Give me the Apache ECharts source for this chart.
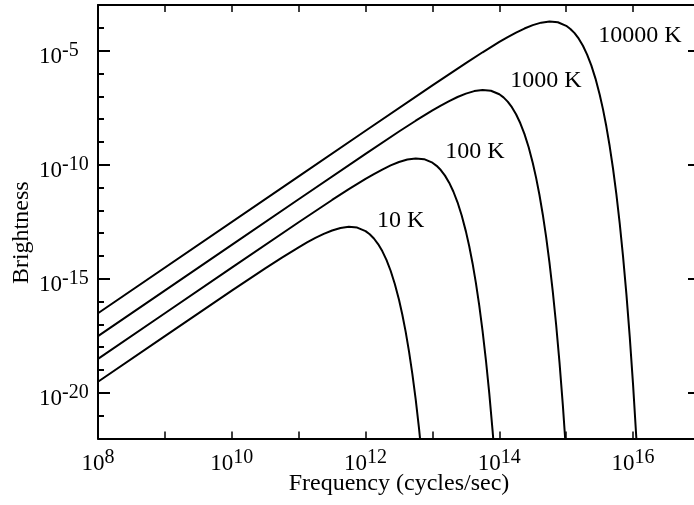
<!DOCTYPE html>
<html><head><meta charset="utf-8">
<script src="https://cdn.jsdelivr.net/npm/echarts@6/dist/echarts.min.js"></script>
<style>html,body{margin:0;padding:0;background:#fff}#c{width:694px;height:505px}</style>
</head><body><div id="c"></div>
<script>
// values are log10(frequency in Hz), log10(brightness)
const curveNames = ['10 K', '100 K', '1000 K', '10000 K'];
const curve10K = [[8,-19.512],[9,-17.513],[10,-15.522],[10.5,-14.545],[10.75,-14.072],[11,-13.620],[11.125,-13.409],[11.25,-13.211],[11.375,-13.032],[11.5,-12.883],[11.625,-12.773],[11.75,-12.723],[11.875,-12.757],[12,-12.912],[12.0625,-13.049],[12.125,-13.234],[12.1875,-13.478],[12.25,-13.787],[12.3125,-14.174],[12.375,-14.648],[12.4375,-15.226],[12.5,-15.922],[12.55,-16.576],[12.6,-17.328],[12.65,-18.192],[12.7,-19.177],[12.75,-20.301],[12.8,-21.582],[12.85,-23.036]];
const curve100K = [[8,-18.512],[9,-16.512],[10,-14.513],[11,-12.522],[11.5,-11.545],[11.75,-11.072],[12,-10.620],[12.125,-10.409],[12.25,-10.211],[12.375,-10.032],[12.5,-9.883],[12.625,-9.773],[12.75,-9.723],[12.875,-9.757],[13,-9.912],[13.0625,-10.049],[13.125,-10.234],[13.1875,-10.478],[13.25,-10.787],[13.3125,-11.174],[13.375,-11.648],[13.4375,-12.226],[13.5,-12.922],[13.55,-13.576],[13.6,-14.328],[13.65,-15.192],[13.7,-16.177],[13.75,-17.301],[13.8,-18.582],[13.85,-20.036],[13.9,-21.686],[13.95,-23.557]];
const curve1000K = [[8,-17.512],[10,-13.512],[11,-11.513],[12,-9.522],[12.5,-8.545],[12.75,-8.072],[13,-7.620],[13.125,-7.409],[13.25,-7.211],[13.375,-7.032],[13.5,-6.883],[13.625,-6.773],[13.75,-6.723],[13.875,-6.757],[14,-6.912],[14.0625,-7.049],[14.125,-7.234],[14.1875,-7.478],[14.25,-7.787],[14.3125,-8.174],[14.375,-8.648],[14.4375,-9.226],[14.5,-9.922],[14.55,-10.576],[14.6,-11.328],[14.65,-12.192],[14.7,-13.177],[14.75,-14.301],[14.8,-15.582],[14.85,-17.036],[14.9,-18.686],[14.95,-20.557],[15,-22.674]];
const curve10000K = [[8,-16.512],[11,-10.512],[12,-8.513],[13,-6.522],[13.5,-5.545],[13.75,-5.072],[14,-4.620],[14.125,-4.409],[14.25,-4.211],[14.375,-4.032],[14.5,-3.883],[14.625,-3.773],[14.75,-3.723],[14.875,-3.757],[15,-3.912],[15.0625,-4.049],[15.125,-4.234],[15.1875,-4.478],[15.25,-4.787],[15.3125,-5.174],[15.375,-5.648],[15.4375,-6.226],[15.5,-6.922],[15.55,-7.576],[15.6,-8.328],[15.65,-9.192],[15.7,-10.177],[15.75,-11.301],[15.8,-12.582],[15.85,-14.036],[15.9,-15.686],[15.95,-17.557],[16,-19.674],[16.05,-22.066],[16.1,-24.77]];
const xTickLabels = [8, 10, 12, 14, 16];
const yTickLabels = [-20, -15, -10, -5];
const curveLabelX = [12.172, 13.19, 14.163, 15.48];
const curveLabelY = [-12.47, -9.42, -6.33, -4.355];

const FONT = 'Liberation Serif';
const curves = [curve10K, curve100K, curve1000K, curve10000K];
const rich = {
  b: { fontFamily: FONT, fontSize: 23, color: '#000', padding: [5, 0, 0, 0], verticalAlign: 'bottom' },
  s: { fontFamily: FONT, fontSize: 20, color: '#000', verticalAlign: 'top' }
};
const powFmt = v => '{b|10}{s|' + v + '}';
const axisLine = { show: true, onZero: false, lineStyle: { color: '#000', width: 2 } };

const chart = echarts.init(document.getElementById('c'), null, { renderer: 'canvas' });
chart.setOption({
  animation: false,
  backgroundColor: '#fff',
  grid: { left: 98, top: 5, width: 602, height: 433.5, containLabel: false, outerBoundsMode: 'none' },
  xAxis: [
    { type: 'value', position: 'bottom', min: 8, max: 17, interval: 1,
      axisLine, axisTick: { inside: true, length: 7, lineStyle: { color: '#000', width: 1.5 } },
      axisLabel: { customValues: xTickLabels, formatter: powFmt, rich, margin: 9 },
      splitLine: { show: false },
      name: 'Frequency (cycles/sec)', nameLocation: 'middle', nameGap: 33, nameMoveOverlap: false,
      nameTextStyle: { fontFamily: FONT, fontSize: 24, color: '#000' } },
    { type: 'value', position: 'top', min: 8, max: 17, interval: 1,
      axisLine, axisTick: { inside: true, length: 7, lineStyle: { color: '#000', width: 1.5 } },
      axisLabel: { show: false }, splitLine: { show: false } }
  ],
  yAxis: [
    { type: 'value', position: 'left', min: -22, max: -3,
      axisLine, axisTick: { inside: true, length: 12, customValues: yTickLabels, lineStyle: { color: '#000', width: 2 } },
      axisLabel: { customValues: yTickLabels, formatter: powFmt, rich, margin: 59, align: 'left', padding: [8, 0, 0, 0] },
      splitLine: { show: false },
      name: 'Brightness', nameLocation: 'middle', nameGap: 64, nameRotate: 90, nameMoveOverlap: false,
      nameTextStyle: { fontFamily: FONT, fontSize: 24, color: '#000', padding: [0, 22, 0, 0] } },
    { type: 'value', position: 'left', min: -22, max: -3, interval: 1, offset: 0,
      axisLine: { show: false }, axisTick: { inside: true, length: 6, lineStyle: { color: '#000', width: 2 } },
      axisLabel: { show: false }, splitLine: { show: false } },
    { type: 'value', position: 'right', min: -22, max: -3, offset: 0,
      axisLine, axisTick: { inside: true, length: 12, customValues: yTickLabels, lineStyle: { color: '#000', width: 2 } },
      axisLabel: { show: false }, splitLine: { show: false } },
    { type: 'value', position: 'right', min: -22, max: -3, interval: 1, offset: 0,
      axisLine: { show: false }, axisTick: { inside: true, length: 6, lineStyle: { color: '#000', width: 2 } },
      axisLabel: { show: false }, splitLine: { show: false } }
  ],
  series: curves.map((d, i) => ({
    type: 'line', name: curveNames[i], data: d, xAxisIndex: 0, yAxisIndex: 0,
    showSymbol: false, symbol: 'none', clip: true, silent: true,
    lineStyle: { color: '#000', width: 2 },
    markPoint: {
      symbol: 'circle', symbolSize: 0, silent: true,
      label: { show: true, position: 'right', distance: 0, formatter: curveNames[i],
        fontFamily: FONT, fontSize: 24, color: '#000' },
      data: [{ coord: [curveLabelX[i], curveLabelY[i]], name: curveNames[i] }]
    }
  }))
});
</script></body></html>
